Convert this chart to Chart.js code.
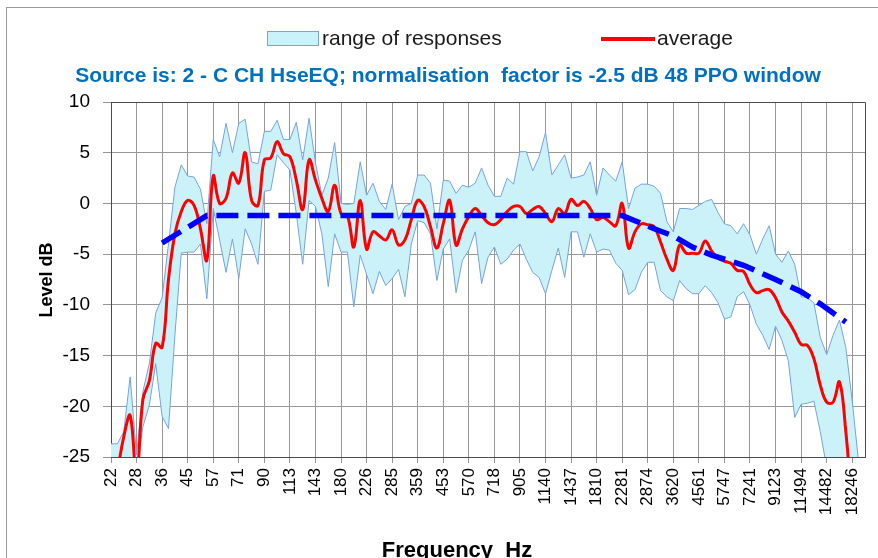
<!DOCTYPE html>
<html>
<head>
<meta charset="utf-8">
<script src="https://cdn.jsdelivr.net/npm/chart.js@4.4.1/dist/chart.umd.min.js"></script>
<style>
  html, body { margin: 0; padding: 0; background: #ffffff; }
  #wrap { position: relative; width: 878px; height: 558px; overflow: hidden; }
  canvas { display: block; }
</style>
</head>
<body>
<div id="wrap"><canvas id="c" width="878" height="558"></canvas></div>
<script>
// ---- tick labels (every 4th category, 1/12-octave data) ----
const tickLabels = ["22","28","36","45","57","71","90","113","143","180","226","285","359","453","570",
  "718","905","1140","1437","1810","2281","2874","3620","4561","5747","7241","9123","11494","14482","18246"];

// ---- series values (dB), one per category ----
const upper = [
  -23.7,-23.7,-22.5,-17.1,-24.8,-18.5,-15.8,-10.8,-9.3,-4.0,
  1.6,3.8,2.7,2.6,1.4,-2.0,6.3,4.6,7.9,5.0,
  7.9,8.3,4.1,3.9,7.1,7.1,8.2,6.3,6.3,8.0,
  4.3,8.4,4.0,0.8,2.5,6.0,0.0,-0.1,0.0,4.1,
  0.8,2.0,0.2,-0.6,1.9,-1.6,-0.3,0.0,2.8,2.8,
  2.0,-2.5,2.3,2.2,1.0,1.8,1.6,2.0,3.5,1.8,
  0.7,0.7,2.5,1.9,5.1,5.1,3.2,4.6,7.0,2.8,
  3.8,4.8,2.5,2.6,2.8,4.1,0.8,3.5,2.8,2.2,
  4.1,-0.5,1.5,1.9,1.9,1.7,1.0,-1.8,-2.8,-0.5,
  -0.5,-0.6,-0.2,0.2,0.4,-0.9,-2.0,-2.2,-3.0,-2.0,
  -3.1,-5.0,-3.5,-2.2,-5.0,-5.8,-4.7,-6.0,-9.2,-9.3,
  -9.8,-13.2,-14.9,-13.0,-11.5,-14.2,-19.5,-25.5,-29.0
];
const lower = [
  -27,-27,-26.5,-26,-26,-22.0,-19.9,-15.8,-21.0,-22.2,
  -13.0,-4.9,-4.8,-4.8,-4.0,-9.4,-0.5,-3.6,-6.8,-3.5,
  -7.4,-2.5,-4.0,-6.0,1.2,1.3,4.8,4.0,3.3,-1.0,
  -6.0,0.3,-0.3,-3.0,-8.2,-3.0,-4.8,-4.8,-10.2,-5.1,
  -7.0,-8.9,-6.7,-8.1,-7.4,-6.5,-9.2,-4.0,-1.7,-1.9,
  -3.0,-7.6,-4.5,-3.5,-8.8,-5.6,-4.6,-2.8,-7.9,-5.3,
  -4.3,-6.0,-5.5,-4.6,-4.0,-5.5,-6.8,-7.3,-8.9,-6.6,
  -4.4,-7.3,-2.8,-2.8,-5.3,-3.0,-4.8,-4.5,-4.6,-5.9,
  -6.6,-9.0,-8.5,-6.8,-5.8,-5.8,-8.6,-9.2,-9.6,-7.6,
  -8.4,-8.9,-8.9,-8.1,-8.8,-9.8,-11.4,-11.2,-9.2,-8.7,
  -10.0,-11.9,-13.0,-14.4,-12.1,-13.5,-15.5,-21.1,-19.8,-19.7,
  -19.5,-22.5,-26,-28,-29,-30,-31,-32,-33
];
const average = [
  -30,-26.5,-23.0,-20.9,-27,-19.3,-17.5,-13.8,-14.2,-7.5,
  -3.0,-0.8,0.3,-0.2,-2.5,-5.6,2.7,0.0,0.5,3.0,
  2.0,5.0,0.3,-0.2,4.3,4.5,6.1,4.9,4.6,2.3,
  -0.6,4.3,2.3,0.5,-0.8,1.8,-1.0,-1.2,-4.3,0.3,
  -4.5,-2.8,-3.2,-3.6,-2.6,-4.1,-3.6,-1.6,0.3,-0.3,
  -2.3,-4.4,-2.0,0.3,-4.1,-2.5,-1.3,-0.5,-1.2,-1.9,
  -2.1,-1.6,-0.8,-0.3,-0.3,-1.0,-0.6,-0.3,-1.0,-1.8,
  -0.5,-1.0,0.4,-0.2,0.2,-0.5,-1.6,-1.4,-1.8,-2.2,
  0.0,-4.4,-2.8,-2.0,-2.1,-2.3,-3.8,-5.5,-6.6,-4.1,
  -4.9,-4.9,-4.9,-3.7,-4.7,-5.4,-5.7,-5.9,-6.6,-6.7,
  -8.0,-8.8,-8.6,-8.5,-9.3,-10.7,-11.6,-12.7,-13.9,-14.0,
  -15.3,-17.9,-19.6,-19.6,-17.6,-22.5,-30,-35,-40
];
// target curve: category index and level at its corner points
const targetCat = [8, 15, 80, 82, 85, 88, 91, 94, 99, 104, 108, 111, 115];
const targetDb  = [-3.9, -1.2, -1.2, -1.7, -2.5, -3.2, -4.3, -5.1, -6.1, -7.5, -8.7, -9.9, -11.7];

const yMin = -25, yMax = 10, yStep = 5;

// ---- build library inputs ----
const nCat = average.length;
const categories = Array.from({ length: nCat }, (_, i) => (i % 4 === 0 && tickLabels[i / 4]) ? tickLabels[i / 4] : '');
const target = categories.map((_, i) => { const k = targetCat.indexOf(i); return k >= 0 ? targetDb[k] : null; });

const bandFill = '#CCF2F9';
const bandLine = '#76A3DB';
const gridCol = '#979797';
const axisCol = '#4a4a4a';

const deco = {
  id: 'deco',
  beforeDraw(chart) {
    const ctx = chart.ctx;
    ctx.save();
    ctx.fillStyle = '#ffffff';
    ctx.fillRect(0, 0, chart.width, chart.height);
    ctx.strokeStyle = '#9a9a9a';
    ctx.lineWidth = 1;
    ctx.strokeRect(6.5, 7.5, chart.width + 20, chart.height + 20);
    ctx.restore();
  },
  afterDraw(chart) {
    const ctx = chart.ctx;
    const a = chart.chartArea;
    ctx.save();
    // plot-area top / right border
    ctx.strokeStyle = axisCol;
    ctx.lineWidth = 1;
    ctx.beginPath();
    ctx.moveTo(Math.round(a.left) + 0.5, Math.round(a.top) + 0.5);
    ctx.lineTo(Math.round(a.right) + 0.5, Math.round(a.top) + 0.5);
    ctx.lineTo(Math.round(a.right) + 0.5, Math.round(a.bottom) + 0.5);
    ctx.stroke();

    // legend
    ctx.fillStyle = bandFill;
    ctx.fillRect(267, 31, 51, 14);
    ctx.strokeStyle = bandLine;
    ctx.strokeRect(267.5, 31.5, 51, 14);
    ctx.strokeStyle = '#ff0000';
    ctx.lineWidth = 4;
    ctx.beginPath(); ctx.moveTo(601, 39); ctx.lineTo(655, 39); ctx.stroke();
    ctx.fillStyle = '#1a1a1a';
    ctx.font = '21px "Liberation Sans", Arial, sans-serif';
    ctx.textBaseline = 'middle';
    ctx.textAlign = 'left';
    ctx.fillText('range of responses', 322, 39);
    ctx.fillText('average', 657, 39);

    // title
    ctx.fillStyle = '#0070C0';
    ctx.font = 'bold 21px "Liberation Sans", Arial, sans-serif';
    ctx.textAlign = 'center';
    ctx.textBaseline = 'alphabetic';
    ctx.fillText('Source is: 2 - C CH HseEQ; normalisation  factor is -2.5 dB 48 PPO window', 448, 82);

    // axis titles
    ctx.fillStyle = '#000000';
    ctx.font = 'bold 22px "Liberation Sans", Arial, sans-serif';
    ctx.fillText('Frequency  Hz', 457, 557);
    ctx.translate(47, 280);
    ctx.rotate(-Math.PI / 2);
    ctx.font = 'bold 18px "Liberation Sans", Arial, sans-serif';
    ctx.textBaseline = 'middle';
    ctx.fillText('Level dB', 0, 0);
    ctx.restore();
  }
};

new Chart(document.getElementById('c'), {
  type: 'line',
  data: {
    labels: categories,
    datasets: [
      { label: 'target', data: target, borderColor: '#0000FF', borderWidth: 5.5, borderDash: [22, 9],
        borderCapStyle: 'butt', pointRadius: 0, tension: 0, spanGaps: true, fill: false, order: 0 },
      { label: 'average', data: average, borderColor: '#FF0000', borderWidth: 3, pointRadius: 0,
        tension: 0.4, fill: false, order: 1 },
      { label: 'range of responses', data: upper, borderColor: bandLine, borderWidth: 1, pointRadius: 0,
        tension: 0, backgroundColor: bandFill, fill: '+1', order: 3 },
      { label: 'range lower', data: lower, borderColor: bandLine, borderWidth: 1, pointRadius: 0,
        tension: 0, fill: false, order: 2 }
    ]
  },
  options: {
    responsive: false,
    animation: false,
    devicePixelRatio: 1,
    layout: { padding: { left: 0, top: 102, right: 13, bottom: 0 } },
    plugins: {
      legend: { display: false },
      title: { display: false },
      tooltip: { enabled: false },
      filler: { drawTime: 'beforeDatasetsDraw' }
    },
    scales: {
      x: {
        type: 'category',
        offset: false,
        afterFit(scale) { scale.height = 101; scale.paddingLeft = 0; scale.paddingRight = 0; },
        grid: {
          color: (c) => (c.index % 4 === 0 ? gridCol : 'rgba(0,0,0,0)'),
          lineWidth: 1, tickLength: 6, drawTicks: true
        },
        border: { display: true, color: axisCol, width: 1 },
        ticks: {
          autoSkip: false, minRotation: 90, maxRotation: 90, padding: 5,
          color: '#000000', font: { family: '"Liberation Sans", Arial, sans-serif', size: 17 },
          callback: (v, i) => categories[i]
        }
      },
      y: {
        min: yMin, max: yMax,
        afterFit(scale) { scale.width = 111; scale.paddingTop = 0; scale.paddingBottom = 0; },
        grid: { color: gridCol, lineWidth: 1, tickLength: 8, drawTicks: true },
        border: { display: true, color: axisCol, width: 1 },
        ticks: {
          stepSize: yStep, padding: 13, color: '#000000',
          font: { family: '"Liberation Sans", Arial, sans-serif', size: 19 }
        }
      }
    }
  },
  plugins: [deco]
});
</script>
</body>
</html>
